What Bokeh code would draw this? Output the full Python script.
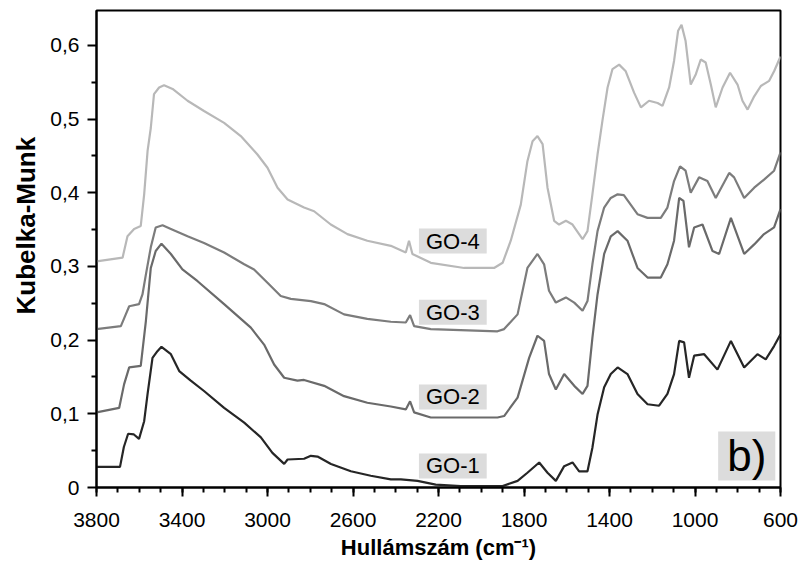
from bokeh.plotting import figure
from bokeh.models import Range1d, FixedTicker, CustomJSTickFormatter, Label, Title
from bokeh.embed import file_html
from bokeh.resources import INLINE

# ---- data (wavenumber in cm-1, Kubelka-Munk values) ----
go1_x = [3800, 3690, 3672, 3652, 3625, 3601, 3577, 3561, 3538, 3515, 3496, 3452, 3413, 3359, 3297, 3203,
         3109, 3031, 2977, 2922, 2906, 2829, 2797, 2766, 2703, 2610, 2517, 2423, 2376, 2298, 2213, 2096,
         1900, 1830, 1784, 1729, 1690, 1651, 1612, 1573, 1542, 1503, 1480, 1456, 1425, 1394, 1362, 1316,
         1269, 1222, 1168, 1129, 1098, 1074, 1051, 1028, 1004, 957, 895, 832, 770, 708, 669, 630, 600]
go1_y = [0.028, 0.028, 0.055, 0.073, 0.072, 0.066, 0.090, 0.127, 0.176, 0.185, 0.191, 0.181, 0.158, 0.145,
         0.131, 0.108, 0.088, 0.068, 0.047, 0.032, 0.038, 0.039, 0.043, 0.042, 0.032, 0.022, 0.016, 0.011,
         0.011, 0.009, 0.004, 0.002, 0.002, 0.009, 0.020, 0.034, 0.020, 0.009, 0.029, 0.034, 0.022, 0.022,
         0.054, 0.099, 0.136, 0.154, 0.163, 0.154, 0.127, 0.113, 0.111, 0.127, 0.154, 0.199, 0.197, 0.149,
         0.179, 0.181, 0.160, 0.199, 0.163, 0.181, 0.174, 0.192, 0.208]

go2_x = [3800, 3694, 3671, 3647, 3593, 3569, 3546, 3523, 3496, 3452, 3398, 3327, 3203, 3078, 3016, 2969,
         2922, 2860, 2829, 2735, 2642, 2533, 2423, 2353, 2333, 2314, 2236, 1924, 1893, 1830, 1776, 1737,
         1706, 1683, 1651, 1612, 1565, 1526, 1503, 1480, 1456, 1425, 1394, 1362, 1316, 1269, 1222, 1160,
         1129, 1098, 1074, 1054, 1028, 1004, 965, 918, 887, 832, 770, 723, 677, 630, 600]
go2_y = [0.102, 0.108, 0.140, 0.163, 0.165, 0.226, 0.298, 0.321, 0.331, 0.317, 0.296, 0.280, 0.249, 0.217,
         0.194, 0.167, 0.149, 0.145, 0.146, 0.138, 0.124, 0.115, 0.110, 0.106, 0.117, 0.102, 0.095, 0.095,
         0.097, 0.122, 0.176, 0.206, 0.199, 0.154, 0.133, 0.154, 0.138, 0.127, 0.138, 0.203, 0.262, 0.317,
         0.341, 0.348, 0.335, 0.298, 0.285, 0.285, 0.303, 0.335, 0.393, 0.389, 0.326, 0.353, 0.357, 0.321,
         0.317, 0.366, 0.317, 0.330, 0.344, 0.353, 0.378]

go3_x = [3800, 3686, 3663, 3647, 3601, 3585, 3569, 3546, 3523, 3491, 3452, 3374, 3297, 3203, 3109, 3063,
         3000, 2938, 2891, 2797, 2735, 2642, 2533, 2423, 2353, 2333, 2314, 2236, 1924, 1893, 1830, 1784,
         1737, 1706, 1683, 1651, 1604, 1565, 1526, 1503, 1480, 1456, 1425, 1394, 1362, 1333, 1269, 1222,
         1160, 1129, 1098, 1070, 1044, 1020, 981, 942, 903, 840, 817, 770, 723, 677, 630, 600]
go3_y = [0.215, 0.219, 0.235, 0.246, 0.249, 0.262, 0.289, 0.326, 0.353, 0.356, 0.351, 0.341, 0.332, 0.319,
         0.303, 0.296, 0.278, 0.260, 0.256, 0.253, 0.249, 0.235, 0.229, 0.225, 0.224, 0.234, 0.219, 0.215,
         0.212, 0.215, 0.235, 0.298, 0.317, 0.303, 0.267, 0.251, 0.258, 0.251, 0.240, 0.253, 0.303, 0.348,
         0.380, 0.393, 0.398, 0.397, 0.371, 0.366, 0.366, 0.380, 0.416, 0.436, 0.430, 0.400, 0.421, 0.416,
         0.393, 0.427, 0.421, 0.393, 0.407, 0.418, 0.430, 0.455]

go4_x = [3800, 3678, 3655, 3624, 3593, 3577, 3561, 3546, 3531, 3507, 3484, 3444, 3374, 3297, 3203, 3125,
         3047, 3000, 2953, 2906, 2829, 2782, 2704, 2626, 2533, 2423, 2353, 2338, 2322, 2236, 2080, 1940,
         1900, 1862, 1815, 1784, 1760, 1737, 1713, 1690, 1659, 1636, 1604, 1573, 1526, 1503, 1480, 1456,
         1433, 1409, 1386, 1355, 1324, 1285, 1253, 1215, 1175, 1152, 1121, 1098, 1079, 1063, 1044, 1020,
         996, 973, 950, 926, 903, 871, 836, 801, 778, 754, 723, 692, 653, 630, 600]
go4_y = [0.307, 0.312, 0.341, 0.351, 0.355, 0.398, 0.457, 0.488, 0.534, 0.543, 0.546, 0.541, 0.525, 0.511,
         0.495, 0.477, 0.452, 0.434, 0.407, 0.391, 0.380, 0.375, 0.357, 0.344, 0.335, 0.328, 0.319, 0.335,
         0.317, 0.305, 0.298, 0.298, 0.305, 0.335, 0.384, 0.443, 0.470, 0.477, 0.466, 0.407, 0.362, 0.357,
         0.362, 0.357, 0.337, 0.348, 0.398, 0.452, 0.498, 0.543, 0.568, 0.574, 0.565, 0.536, 0.516, 0.525,
         0.522, 0.518, 0.543, 0.579, 0.620, 0.628, 0.606, 0.547, 0.561, 0.581, 0.577, 0.547, 0.516, 0.543,
         0.563, 0.547, 0.525, 0.513, 0.531, 0.545, 0.552, 0.565, 0.585]

series_names = ["GO-1", "GO-2", "GO-3", "GO-4"]
series_colors = ["#262626", "#6a6a6a", "#7c7c7c", "#b8b8b8"]
label_x = 2133
label_y = [0.0292, 0.1229, 0.238, 0.3346]

x_major_ticks = [3800, 3400, 3000, 2600, 2200, 1800, 1400, 1000, 600]
x_minor_ticks = list(range(3800, 599, -100))
y_major_ticks = [0, 0.1, 0.2, 0.3, 0.4, 0.5, 0.6]
y_minor_ticks = [0.05, 0.15, 0.25, 0.35, 0.45, 0.55]

FONT = "Liberation Sans"

p = figure(frame_width=684, frame_height=477, output_backend="svg", toolbar_location=None,
           x_range=Range1d(3800, 600), y_range=Range1d(0, 0.6475),
           min_border_left=96, min_border_right=27, min_border_top=10, min_border_bottom=79)
p.background_fill_color = "white"
p.border_fill_color = "white"
p.outline_line_color = "black"
p.outline_line_width = 2
p.xgrid.visible = False
p.ygrid.visible = False

for xs, ys, c in zip([go1_x, go2_x, go3_x, go4_x], [go1_y, go2_y, go3_y, go4_y], series_colors):
    p.line(xs, ys, line_color=c, line_width=2.2)

for ax in (p.xaxis[0], p.yaxis[0]):
    ax.axis_line_width = 2
    ax.axis_line_color = "black"
    ax.major_tick_line_width = 2
    ax.minor_tick_line_width = 2
    ax.major_tick_in = 0
    ax.minor_tick_in = 0
    ax.major_tick_out = 9
    ax.minor_tick_out = 5
    ax.major_label_text_font = FONT
    ax.major_label_text_font_size = "21px"
    ax.major_label_text_color = "black"

p.xaxis.ticker = FixedTicker(ticks=x_major_ticks, minor_ticks=x_minor_ticks)
p.yaxis.ticker = FixedTicker(ticks=y_major_ticks, minor_ticks=y_minor_ticks)
p.yaxis.formatter = CustomJSTickFormatter(code="return tick == 0 ? '0' : tick.toFixed(1).replace('.', ',');")
p.xaxis.major_label_standoff = 16
p.yaxis.major_label_standoff = 8

p.xaxis.axis_label = "Hullámszám (cm⁻¹)"
p.xaxis.axis_label_text_font = FONT
p.xaxis.axis_label_text_font_style = "bold"
p.xaxis.axis_label_text_font_size = "22px"
p.xaxis.axis_label_text_color = "black"
p.xaxis.axis_label_standoff = 5

p.add_layout(Title(text="Kubelka-Munk", align="left", offset=173, standoff=14,
                   text_font=FONT, text_font_style="bold", text_font_size="26px",
                   text_color="black"), "left")

for name, ly in zip(series_names, label_y):
    p.add_layout(Label(x=label_x, y=ly, text=name, text_align="center", text_baseline="middle",
                       text_font=FONT, text_font_size="22px", text_color="black",
                       background_fill_color="#dcdcdc", padding=(7, 0)))

p.add_layout(Label(x=758, y=0.0428, text="b)", text_align="center", text_baseline="middle",
                   text_font=FONT, text_font_size="44px", text_color="black",
                   background_fill_color="#dcdcdc", padding=(9, 0)))

open("out.html", "w").write(file_html(p, INLINE))
